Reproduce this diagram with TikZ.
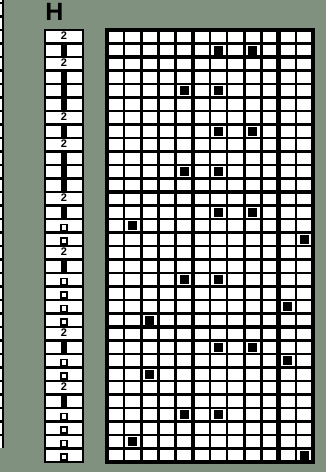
\documentclass[tikz,border=0pt]{standalone}
\usepackage{fontspec}
\setmainfont{Liberation Sans}
\begin{document}
\begin{tikzpicture}[x=1pt,y=-1pt,
  gridline/.style={line width=2.4pt,black},
  heavyline/.style={line width=4.6pt,black},
  dotsq/.style={fill=black},
  twolabel/.style={font=\bfseries\fontsize{11}{11}\selectfont,inner sep=0pt},
]
\definecolor{bg}{RGB}{128,145,128}
\fill[bg] (0,0) rectangle (326,472);
\useasboundingbox (0,0) rectangle (326,472);
% partial neighbouring column at the far left
\fill[white] (0,0) rectangle (3,448);
\draw[gridline] (3,0) -- (3,448);
\foreach \j in {0,...,32} \draw[gridline] (0,{3+13.5*\j}) -- (4,{3+13.5*\j});
% title
\node[font=\bfseries\fontsize{25}{25}\selectfont,inner sep=0pt] (title) at (54.5,12) {H};
% left key column
\fill[white] (45,30) rectangle (83,462);
\foreach \j in {1,...,31} \draw[gridline] (45,{30+13.5*\j}) -- (83,{30+13.5*\j});
\draw[line width=2.8pt] (45,30) rectangle (83,462);
\foreach \r/\t in {1/T,2/B,3/T,4/B,5/B,6/B,7/T,8/B,9/T,10/B,11/B,12/B,13/T,14/B,15/H,16/H,
                   17/T,18/B,19/H,20/H,21/H,22/H,23/T,24/B,25/H,26/H,27/T,28/B,29/H,30/H,31/H,32/H}{
  \pgfmathsetmacro{\yc}{30+13.5*(\r-0.5)}
  \if\t T \node[twolabel] (k\r) at (64,\yc-1) {2};\fi
  \if\t B \fill (61,\yc-7) rectangle (67,\yc+6.75); \coordinate (k\r) at (64,\yc);\fi
  \if\t H \draw[line width=1.6pt] (61.2,\yc-1.2) rectangle (67,\yc+5); \coordinate (k\r) at (64,\yc);\fi
}
% main chart grid
\fill[white] (107,30) rectangle (313,462);
\foreach \i in {1,...,11} \draw[gridline] ({107+206/12*\i},30) -- ({107+206/12*\i},462);
\foreach \j in {1,...,31} \draw[gridline] (107,{30+13.5*\j}) -- (313,{30+13.5*\j});
\foreach \i in {5,10} \draw[heavyline] ({107+206/12*\i},30) -- ({107+206/12*\i},462);
\foreach \j in {2,12,22} \draw[heavyline] (107,{30+13.5*\j}) -- (313,{30+13.5*\j});
\draw[line width=3.6pt] (107,30) rectangle (313,462);
% filled cells
\foreach \r/\c in {2/7,2/9,5/5,5/7,8/7,8/9,11/5,11/7,14/7,14/9,15/2,16/12,19/5,19/7,21/11,
                   22/3,24/7,24/9,25/11,26/3,29/5,29/7,31/2,32/12}{
  \fill[dotsq] ({107+206/12*(\c-0.5)-4.5},{30+13.5*(\r-0.5)-4.5}) rectangle ++(9,9);
}
\end{tikzpicture}
\end{document}
